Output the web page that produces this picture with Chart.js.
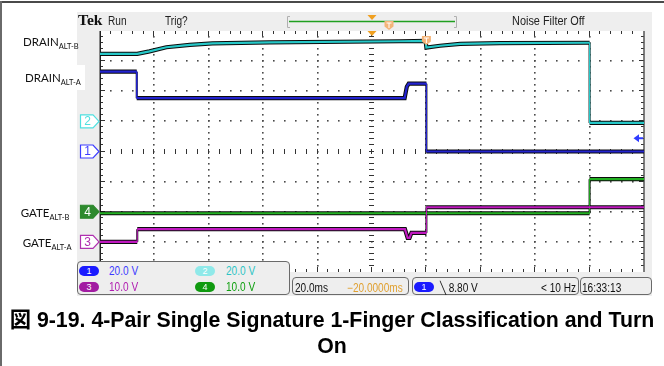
<!DOCTYPE html>
<html>
<head>
<meta charset="utf-8">
<script src="https://cdn.jsdelivr.net/npm/chart.js@4.4.0/dist/chart.umd.min.js"></script>
<style>
body { margin:0; width:664px; height:366px; position:relative; overflow:hidden; background:#fff; }
.abs { position:absolute; white-space:nowrap; }
#bordTop { left:0; top:1px; width:664px; height:2px; background:#4a4a4a; }
#bordLeft { left:0; top:1px; width:2px; height:365px; background:#6a6a6a; }
#panel { left:77px; top:12px; width:575px; height:284px; background:#eeeeee; }
#scope { position:absolute; left:0; top:0; }
.scp { position:absolute; white-space:nowrap; font-family:"Liberation Sans",Arial,sans-serif; font-size:12px; line-height:12px; color:#222; transform:scaleX(0.84); transform-origin:0 0; }
.lab { position:absolute; white-space:nowrap; font-family:Lato,"Open Sans",sans-serif; font-size:11.5px; line-height:11.5px; color:#111; }
.lab span { font-size:7.5px; vertical-align:-3px; }
.box { position:absolute; border:1px solid #6a6a6a; border-radius:4px; background:#eeeeee; box-sizing:border-box; }
.pill { position:absolute; width:20px; height:10px; border-radius:5px; color:#fff; text-align:center; font:9px/10px "Liberation Sans",sans-serif; }
#caption { left:0; top:307px; width:664px; text-align:center; font:bold 21.3px/26px "Liberation Sans",Arial,"Noto Sans CJK JP",sans-serif; color:#000; }
</style>
</head>
<body>
<div id="bordTop" class="abs"></div>
<div id="bordLeft" class="abs"></div>
<div id="panel" class="abs"></div>
<canvas id="scope" width="664" height="366"></canvas>

<!-- barre du haut -->
<div class="abs" style="left:78px;top:12px;font:bold 15.5px/15.5px 'Liberation Serif',serif;color:#111;">Tek</div>
<div class="scp" style="left:108px;top:14.5px;">Run</div>
<div class="scp" style="left:165px;top:14.5px;">Trig?</div>
<div class="scp" style="left:512px;top:14px;font-size:13px;line-height:13px;">Noise Filter Off</div>

<!-- étiquettes des voies -->
<div class="abs" style="left:18px;top:65px;width:67px;height:25px;background:#fff;"></div>
<div class="lab" style="left:23px;top:35.8px;">DRAIN<span>ALT-B</span></div>
<div class="lab" style="left:25px;top:71.5px;">DRAIN<span>ALT-A</span></div>
<div class="lab" style="left:20.7px;top:207px;">GATE<span>ALT-B</span></div>
<div class="lab" style="left:22.7px;top:236.5px;">GATE<span>ALT-A</span></div>

<!-- cadres du bas -->
<div class="box" style="left:77px;top:261px;width:213px;height:34px;"></div>
<div class="pill" style="left:79px;top:266px;background:#1a1aff;">1</div>
<div class="scp" style="left:109px;top:264.8px;color:#3a3aff;">20.0 V</div>
<div class="pill" style="left:195px;top:266px;background:#8fe9e9;">2</div>
<div class="scp" style="left:226px;top:264.8px;color:#2cc4c4;">20.0 V</div>
<div class="pill" style="left:79px;top:282px;background:#a21ca2;">3</div>
<div class="scp" style="left:109px;top:280.5px;color:#b01cb0;">10.0 V</div>
<div class="pill" style="left:195px;top:282px;background:#109a10;">4</div>
<div class="scp" style="left:226px;top:280.5px;color:#10a010;">10.0 V</div>

<div class="box" style="left:292px;top:277px;width:117px;height:18px;"></div>
<div class="scp" style="left:295px;top:281.5px;color:#111;">20.0ms</div>
<div class="scp" style="left:347px;top:281.5px;color:#e0a030;">&minus;20.0000ms</div>

<div class="box" style="left:412px;top:277px;width:167px;height:18px;"></div>
<div class="pill" style="left:414px;top:282px;background:#1a1aff;">1</div>
<div class="scp" style="left:440px;top:281.5px;color:#111;">&#x2572; 8.80 V</div>
<div class="scp" style="left:541px;top:281.5px;color:#111;">&lt; 10 Hz</div>

<div class="box" style="left:580px;top:277px;width:72px;height:18px;"></div>
<div class="scp" style="left:582px;top:281.5px;color:#111;">16:33:13</div>

<div id="caption" class="abs">図 9-19. 4-Pair Single Signature 1-Finger Classification and Turn<br>On</div>

<script>
// base de temps : 20 ms/div, 10 divisions, position -20 ms (déclenchement à t = 0)
const timeMin = -120;
const timeMax = 80;
const msPerDiv = 20;

// réglages des voies : V/div et position du zéro (en divisions)
const chNames = ['1', '2', '3', '4'];
const chVoltsPerDiv = [20, 20, 10, 10];
const chZeroDiv = [0, 1, -3, -2];
const chColors = ['#2323d0', '#26c8c8', '#c018c0', '#22b022'];
const trigLevel = 8.8;

// voie 1 : DRAIN ALT-A (V)
const ch1T = [-120, -106.5, -106.5, -8, -7.2, -6.5, 0, 0, 80];
const ch1V = [53, 53, 35.4, 35.4, 43, 45, 45, 0, 0];

// voie 2 : DRAIN ALT-B (V)
const ch2T = [-120, -106.3, -101.8, -95.6, -87, -78.6, -57.6, -9.7, -0.3, 0, 5, 12.4, 27, 60, 60, 80];
const ch2V = [44.8, 44.8, 46.5, 49.2, 50.8, 51.8, 52.5, 53.2, 53.5, 49, 50.2, 51.5, 52, 52.2, -1, -1];

// voie 3 : GATE ALT-A (V)
const ch3T = [-120, -106.3, -106.3, -7.9, -6.9, -6.2, -5.5, 0, 0, 80];
const ch3V = [0, 0, 4.2, 4.2, 1.3, 1.3, 3.0, 3.0, 11.5, 11.5];

// voie 4 : GATE ALT-B (V)
const ch4T = [-120, 60, 60, 80];
const ch4V = [-0.5, -0.5, 10.8, 10.8];

const chT = [ch1T, ch2T, ch3T, ch4T];
const chV = [ch1V, ch2V, ch3V, ch4V];

// jeux de données : une ombre noire puis la trace en couleur
const datasets = [];
chT.forEach((tt, k) => {
    const pts = tt.map((t, i) => ({ x: t, y: chV[k][i] }));
    const vertical = c => Math.abs(c.p0.x - c.p1.x) < 0.5;
    datasets.push({
        data: pts, yAxisID: 'y' + (k + 1), borderColor: '#0c0c0c', borderWidth: 4.2,
        pointRadius: 0, tension: 0, order: 10,
        segment: { borderWidth: c => vertical(c) ? 2 : undefined }
    });
    datasets.push({
        data: pts, yAxisID: 'y' + (k + 1), borderColor: chColors[k], borderWidth: 2.2,
        pointRadius: 0, tension: 0, order: 1,
        segment: { borderWidth: c => vertical(c) ? 1 : undefined }
    });
});

const scales = {
    x: { type: 'linear', min: timeMin, max: timeMax, display: false }
};
chNames.forEach((n, k) => {
    scales['y' + (k + 1)] = {
        type: 'linear', axis: 'y', display: false,
        min: (-4 - chZeroDiv[k]) * chVoltsPerDiv[k],
        max: (4 - chZeroDiv[k]) * chVoltsPerDiv[k]
    };
});

// grille pointillée, réticule, graduations et repères
const scopePlugin = {
    id: 'scope',
    beforeDatasetsDraw(chart) {
        const { ctx, chartArea: a } = chart;
        const xs = chart.scales.x, ys = chart.scales.y1;
        ctx.save();
        ctx.fillStyle = '#ffffff';
        ctx.fillRect(a.left, a.top, a.right - a.left, a.bottom - a.top);

        const px = [], py = [];
        for (let i = 0; i <= 50; i++) px.push(Math.round(xs.getPixelForValue(timeMin + i * msPerDiv / 5)));
        for (let j = 0; j <= 40; j++) py.push(Math.round(ys.getPixelForValue(ys.min + j * chVoltsPerDiv[0] / 5)));

        ctx.fillStyle = '#4a4a4a';
        for (let j = 5; j < 40; j += 5) {
            if (j === 20) continue;
            for (let i = 1; i < 50; i++) ctx.fillRect(px[i] - 1, py[j] - 1, 1.6, 1.6);
        }
        for (let i = 5; i < 50; i += 5) {
            if (i === 25) continue;
            for (let j = 1; j < 40; j++) ctx.fillRect(px[i] - 1, py[j] - 1, 1.6, 1.6);
        }

        ctx.strokeStyle = '#333';
        ctx.lineWidth = 1;
        ctx.beginPath();
        // réticule central
        for (let i = 1; i < 50; i++) {
            ctx.moveTo(px[i] - 0.5, py[20] - 3); ctx.lineTo(px[i] - 0.5, py[20] + 2);
        }
        for (let j = 1; j < 40; j++) {
            ctx.moveTo(px[25] - 3, py[j] - 0.5); ctx.lineTo(px[25] + 2, py[j] - 0.5);
        }
        // graduations des bords
        for (let i = 1; i < 50; i++) {
            const len = i % 5 === 0 ? 5 : 3;
            ctx.moveTo(px[i] - 0.5, a.top); ctx.lineTo(px[i] - 0.5, a.top + len);
            ctx.moveTo(px[i] - 0.5, a.bottom); ctx.lineTo(px[i] - 0.5, a.bottom - len);
        }
        for (let j = 1; j < 40; j++) {
            const len = j % 5 === 0 ? 5 : 3;
            ctx.moveTo(a.left, py[j] - 0.5); ctx.lineTo(a.left + len, py[j] - 0.5);
            ctx.moveTo(a.right, py[j] - 0.5); ctx.lineTo(a.right - len, py[j] - 0.5);
        }
        ctx.stroke();

        ctx.lineWidth = 1.5;
        ctx.strokeStyle = '#222';
        ctx.beginPath();
        ctx.moveTo(a.left + 0.25, a.top); ctx.lineTo(a.left + 0.25, a.bottom);
        ctx.stroke();
        ctx.strokeStyle = '#555';
        ctx.beginPath();
        ctx.moveTo(a.right, a.top); ctx.lineTo(a.right, a.bottom);
        ctx.stroke();
        ctx.restore();
    },
    afterDatasetsDraw(chart) {
        const { ctx, chartArea: a } = chart;
        const xs = chart.scales.x;
        ctx.save();

        // repères des voies à gauche
        const style = [
            { fill: '#ffffff', stroke: '#3c3cff', text: '#3c3cff' },
            { fill: '#ffffff', stroke: '#4fe0e0', text: '#4fe0e0' },
            { fill: '#ffffff', stroke: '#b030b0', text: '#b030b0' },
            { fill: '#2e8a2e', stroke: '#2e8a2e', text: '#ffffff' }
        ];
        chNames.forEach((n, k) => {
            const yy = chart.scales['y' + (k + 1)].getPixelForValue(0);
            const x0 = 80.5, x1 = 93, x2 = 99, h = 6.5;
            ctx.beginPath();
            ctx.moveTo(x0, yy - h); ctx.lineTo(x1, yy - h); ctx.lineTo(x2, yy);
            ctx.lineTo(x1, yy + h); ctx.lineTo(x0, yy + h); ctx.closePath();
            ctx.fillStyle = style[k].fill; ctx.fill();
            ctx.strokeStyle = style[k].stroke; ctx.lineWidth = 1.2; ctx.stroke();
            ctx.fillStyle = style[k].text;
            ctx.font = '12px "Liberation Sans",sans-serif';
            ctx.textAlign = 'center'; ctx.textBaseline = 'middle';
            ctx.fillText(n, 87.5, yy + 0.5);
        });

        // flèche du niveau de déclenchement
        const ty = chart.scales.y1.getPixelForValue(trigLevel);
        ctx.strokeStyle = '#2f3cff'; ctx.fillStyle = '#2f3cff'; ctx.lineWidth = 2;
        ctx.beginPath(); ctx.moveTo(638, ty); ctx.lineTo(643, ty); ctx.stroke();
        ctx.beginPath(); ctx.moveTo(633.5, ty); ctx.lineTo(639, ty - 4); ctx.lineTo(639, ty + 4); ctx.closePath(); ctx.fill();

        // position horizontale et point de déclenchement
        const cx = xs.getPixelForValue(timeMin + 5 * msPerDiv);
        ctx.fillStyle = '#f0a020';
        ctx.beginPath(); ctx.moveTo(cx - 4.5, a.top); ctx.lineTo(cx + 4.5, a.top); ctx.lineTo(cx, a.top + 5); ctx.closePath(); ctx.fill();
        const tx = xs.getPixelForValue(0);
        drawT(ctx, tx, a.top + 5);

        // barre d'enregistrement
        ctx.strokeStyle = '#20a020'; ctx.lineWidth = 1.5;
        ctx.beginPath(); ctx.moveTo(289, 21.5); ctx.lineTo(455, 21.5); ctx.stroke();
        ctx.strokeStyle = '#b0b0b0'; ctx.lineWidth = 1;
        ctx.beginPath();
        ctx.moveTo(290, 16.5); ctx.lineTo(287.5, 16.5); ctx.lineTo(287.5, 27.5); ctx.lineTo(290, 27.5);
        ctx.moveTo(454, 16.5); ctx.lineTo(456.5, 16.5); ctx.lineTo(456.5, 27.5); ctx.lineTo(454, 27.5);
        ctx.stroke();
        ctx.fillStyle = '#f0a020';
        ctx.beginPath(); ctx.moveTo(cx - 4.5, 15); ctx.lineTo(cx + 4.5, 15); ctx.lineTo(cx, 20); ctx.closePath(); ctx.fill();
        drawT(ctx, 389, 21);
        ctx.restore();
    }
};

function drawT(ctx, x, top) {
    ctx.fillStyle = '#f4b478';
    ctx.beginPath();
    ctx.moveTo(x - 4.5, top); ctx.lineTo(x + 4.5, top); ctx.lineTo(x + 4.5, top + 5.5);
    ctx.lineTo(x, top + 9); ctx.lineTo(x - 4.5, top + 5.5); ctx.closePath(); ctx.fill();
    ctx.strokeStyle = '#ffffff'; ctx.lineWidth = 1;
    ctx.beginPath();
    ctx.moveTo(x - 2.5, top + 2); ctx.lineTo(x + 2.5, top + 2);
    ctx.moveTo(x, top + 2); ctx.lineTo(x, top + 7);
    ctx.stroke();
}

new Chart(document.getElementById('scope'), {
    type: 'line',
    data: { datasets: datasets },
    options: {
        responsive: false,
        animation: false,
        layout: { padding: { left: 100, top: 31, right: 20, bottom: 94 } },
        plugins: { legend: { display: false }, tooltip: { enabled: false } },
        scales: scales
    },
    plugins: [scopePlugin]
});
</script>
</body>
</html>
